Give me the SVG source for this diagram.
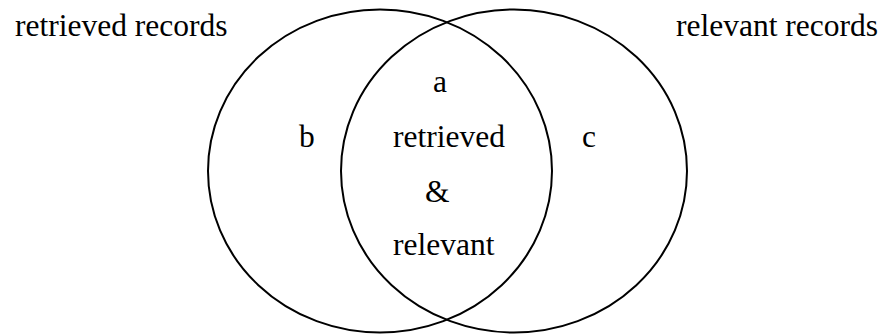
<svg xmlns="http://www.w3.org/2000/svg" width="886" height="336" viewBox="0 0 886 336">
<style>
text{font-family:'Liberation Serif','Times New Roman',serif;font-size:31.5px;fill:#000}
.c{fill:none;stroke:#000;stroke-width:2}
</style>
<rect width="886" height="336" fill="#fff"/>
<g id="retrieved">
<ellipse class="c" cx="380" cy="171" rx="172" ry="161.5"/>
<text x="15" y="36">retrieved records</text>
<text x="299" y="147">b</text>
</g>
<g id="relevant">
<ellipse class="c" cx="514" cy="171" rx="173" ry="161.5"/>
<text x="676" y="36">relevant records</text>
<text x="582" y="147">c</text>
</g>
<g id="intersection">
<text x="433" y="92">a</text>
<text x="393" y="147">retrieved</text>
<text x="425" y="202">&amp;</text>
<text x="393" y="255">relevant</text>
</g>
<g id="connectors"/>
</svg>
